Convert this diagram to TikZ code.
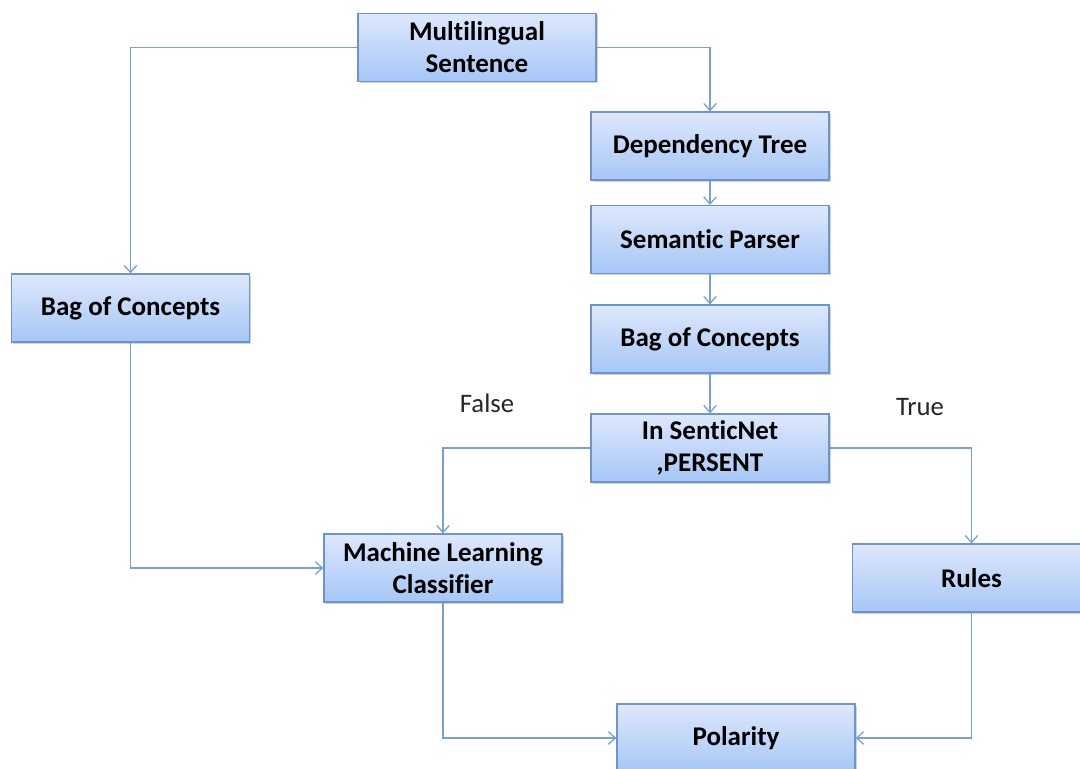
\documentclass[tikz,border=0pt]{standalone}
\usepackage{fontspec}
\setmainfont{Carlito}[Ligatures=NoCommon]
\usepackage{tikz}
\usetikzlibrary{arrows.meta,positioning,calc,shadows}

\definecolor{boxtop}{RGB}{222,232,252}
\definecolor{boxbot}{RGB}{166,198,246}
\definecolor{boxedge}{RGB}{110,148,205}
\definecolor{linkblue}{RGB}{120,160,215}

\tikzset{
  stage/.style={draw=boxedge,line width=0.9pt,top color=boxtop,bottom color=boxbot,
    minimum width=5.95cm,minimum height=1.7cm,align=center,inner sep=2pt,
    font=\fontsize{19.2}{22.8}\selectfont\bfseries,
    drop shadow={shadow xshift=1.2pt,shadow yshift=-1.2pt,opacity=0.35}},
  link/.style={draw=linkblue,line width=0.9pt,-{Straight Barb[length=5pt,width=9pt]}},
  branch/.style={font=\fontsize{19}{22}\selectfont,text=black!85}
}

\begin{document}
\begin{tikzpicture}[x=0.025cm,y=-0.025cm]
  \clip (0,0) rectangle (1080,769);
  \fill[white] (0,0) rectangle (1080,769);
  % main column
  \node[stage] (sentence) at (477,47.5) {Multilingual\\Sentence};
  \node[stage] (deptree) at (710,146) {Dependency Tree};
  \node[stage] (parser) at (710,239.5) {Semantic Parser};
  \node[stage] (bagright) at (710,339) {Bag of Concepts};
  \node[stage] (senticnet) at (710,448) {In SenticNet\\,PERSENT};
  % side branches
  \node[stage] (bagleft) at (130.5,308) {Bag of Concepts};
  \node[stage] (classifier) at (443,568) {Machine Learning\\Classifier};
  \node[stage] (rules) at (971.5,578) {Rules};
  \node[stage] (polarity) at (736,738) {Polarity};
  \node[branch] (lblfalse) at (487,403) {False};
  \node[branch] (lbltrue) at (920,407) {True};

  \draw[link] (sentence.west) -| (bagleft.north);
  \draw[link] (sentence.east) -| (deptree.north);
  \draw[link] (deptree) -- (parser);
  \draw[link] (parser) -- (bagright);
  \draw[link] (bagright) -- (senticnet);
  \draw[link] (senticnet.west) -| (classifier.north);
  \draw[link] (senticnet.east) -| (rules.north);
  \draw[link] (bagleft.south) |- (classifier.west);
  \draw[link] (classifier.south) |- (polarity.west);
  \draw[link] (rules.south) |- (polarity.east);
\end{tikzpicture}
\end{document}
